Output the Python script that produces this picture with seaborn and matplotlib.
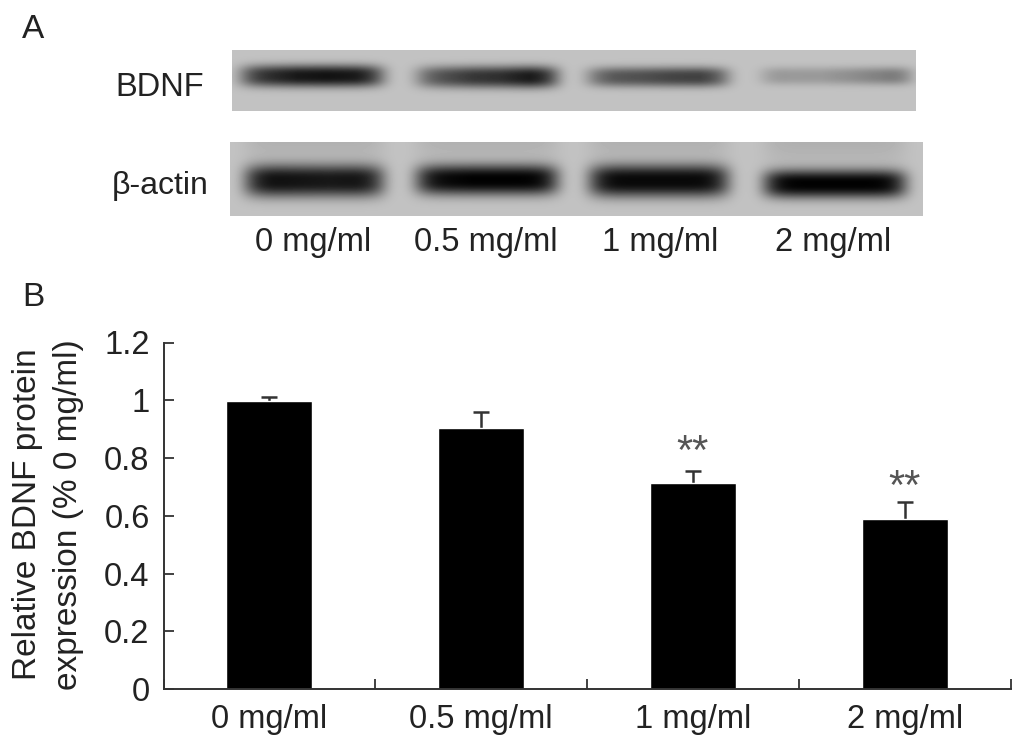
import matplotlib
matplotlib.use("Agg")
import matplotlib.pyplot as plt
import numpy as np
import pandas as pd
import seaborn as sns

doses = ["0 mg/ml", "0.5 mg/ml", "1 mg/ml", "2 mg/ml"]
expression = [0.998, 0.903, 0.714, 0.589]
sem_upper = [0.014, 0.057, 0.042, 0.060]
stars = ["", "", "**", "**"]
star_y = [0, 0, 0.780, 0.659]
yticks = [0, 0.2, 0.4, 0.6, 0.8, 1, 1.2]
ytick_labels = ["0", "0.2", "0.4", "0.6", "0.8", "1", "1.2"]

# blot lanes, figure pixels: left, right, centre y, half height, darkness along the lane
bdnf_lanes = [
    (240, 384, 76, 11, [0.68, 0.8, 0.92, 0.95, 0.92, 0.8]),
    (416, 558, 77, 11, [0.5, 0.62, 0.75, 0.8, 0.92, 0.88]),
    (587, 729, 77, 10, [0.48, 0.58, 0.62, 0.68, 0.7, 0.6]),
    (763, 910, 76, 9, [0.28, 0.22, 0.22, 0.28, 0.36, 0.5]),
]
actin_lanes = [
    (245, 384, 181, 16, [0.92, 0.96, 0.94, 0.92, 0.94, 0.92]),
    (416, 558, 180, 15, [0.96, 1.0, 1.04, 1.04, 1.04, 1.04]),
    (589, 729, 181, 16, [0.96, 1.0, 1.0, 1.0, 1.0, 0.96]),
    (764, 906, 184, 14, [1.04, 1.04, 1.04, 1.04, 1.04, 1.04]),
]

W, H = 1025, 747


def draw_blot(box, lanes, smear):
    x0, x1, y0, y1 = box
    ax = fig.add_axes([x0 / W, 1 - y1 / H, (x1 - x0) / W, (y1 - y0) / H])
    xx, yy = np.meshgrid(np.arange(x0, x1) + 0.5, np.arange(y0, y1) + 0.5)
    img = np.full(xx.shape, 194.0)
    for left, right, cy, half, dark in lanes:
        mid = (left + right) / 2
        across = np.exp(-(np.abs(xx - mid) / ((right - left) / 2)) ** 8)
        along = np.interp(xx, np.linspace(left, right, len(dark)), dark)
        band = np.exp(-(np.abs(yy - cy) / half) ** 2.6) * across * along
        img = img - band * 185
        if smear:
            above = np.clip((cy - yy) / 40, 0, 1) * across * (yy < cy)
            img = img - above * 18
    ax.imshow(np.clip(img, 0, 255), cmap="gray", vmin=0, vmax=255, aspect="auto",
              interpolation="bilinear")
    ax.axis("off")


sns.set_style("ticks")
plt.rcParams["font.family"] = ["Liberation Sans", "DejaVu Sans"]
plt.rcParams["text.color"] = "#222222"

fig = plt.figure(figsize=(W / 100, H / 100), dpi=100)

draw_blot((232, 916, 50, 111), bdnf_lanes, False)
draw_blot((230, 923, 142, 216), actin_lanes, True)

fig.text(22 / W, 1 - 29 / H, "A", fontsize=24, va="center", ha="left")
fig.text(22 / W, 1 - 297 / H, "B", fontsize=24, va="center", ha="left")
fig.text(160 / W, 1 - 87 / H, "BDNF", fontsize=23.5, va="center", ha="center")
fig.text(160 / W, 1 - 186 / H, "\u03b2-actin", fontsize=23, va="center", ha="center",
         family=["Liberation Sans", "DejaVu Sans"])
for label, cx in zip(doses, [313, 486, 660, 833]):
    fig.text(cx / W, 1 - 242 / H, label, fontsize=23.5, va="center", ha="center")

ax = fig.add_axes([163.5 / W, 1 - 689 / H, (1010.5 - 163.5) / W, (689 - 342.5) / H])
data = pd.DataFrame({"dose": doses, "expression": expression})
sns.barplot(data=data, x="dose", y="expression", color="black", width=0.407,
            saturation=1, errorbar=None, ax=ax)
bars = ax.errorbar(range(len(doses)), expression, yerr=[[0] * len(doses), sem_upper], fmt="none",
                   ecolor="#333333", elinewidth=1.8, capsize=6, capthick=1.8, zorder=0.5)
bars[1][0].set_visible(False)  # upper error only, no cap on the bar top
for i, s in enumerate(stars):
    if s:
        ax.text(i, star_y[i], s, ha="center", va="baseline", fontsize=30, color="#555555")

ax.set_xlim(-0.5, 3.5)
ax.set_ylim(0, 1.2)
ax.set_yticks(yticks)
ax.set_yticklabels(ytick_labels)
ax.set_xticks([-0.5, 0.5, 1.5, 2.5, 3.5])
ax.set_xticklabels([])
ax.set_xticks(range(len(doses)), minor=True)
ax.set_xticklabels(doses, minor=True)
ax.tick_params(axis="x", which="major", direction="in", length=7, width=1.3, color="#333333")
ax.tick_params(axis="x", which="minor", length=0, labelsize=23.5, pad=11, labelcolor="#222222")
ax.tick_params(axis="y", direction="in", length=7, width=1.3, color="#333333",
               labelsize=23.5, pad=10, labelcolor="#222222")
ax.set_xlabel("")
ax.set_ylabel("")
ax.spines["top"].set_visible(False)
ax.spines["right"].set_visible(False)
ax.spines["left"].set_linewidth(1.4)
ax.spines["bottom"].set_linewidth(1.4)
ax.spines["left"].set_color("#333333")
ax.spines["bottom"].set_color("#333333")

fig.text(28 / W, 1 - 514 / H, "Relative BDNF protein", fontsize=24, rotation=90,
         va="center", ha="center")
fig.text(69 / W, 1 - 515 / H, "expression (% 0 mg/ml)", fontsize=24, rotation=90,
         va="center", ha="center")

fig.savefig("out.png", dpi=100)
